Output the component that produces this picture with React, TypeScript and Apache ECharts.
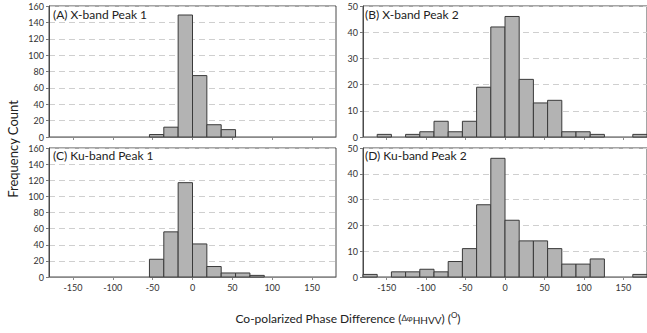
import React, { useEffect, useRef } from "react";
import * as echarts from "echarts";

// Histogram bins (degrees), 18° wide, from -180 to 180
const binStarts = [-180, -162, -144, -126, -108, -90, -72, -54, -36, -18, 0, 18, 36, 54, 72, 90, 108, 126, 144, 162];
const binWidth = 18;

const xBandPeak1 = [0, 0, 0, 0, 0, 0, 0, 3, 12, 149, 75, 15, 9, 0, 0, 0, 0, 0, 0, 0];
const xBandPeak2 = [0, 1, 0, 1, 2, 6, 2, 6, 19, 42, 46, 22, 13, 14, 2, 2, 1, 0, 0, 1];
const kuBandPeak1 = [0, 0, 0, 0, 0, 0, 0, 22, 56, 117, 41, 13, 5, 5, 2, 0, 0, 0, 0, 0];
const kuBandPeak2 = [1, 0, 2, 2, 3, 2, 6, 11, 28, 46, 22, 14, 14, 11, 5, 5, 7, 0, 0, 1];

const panelTitles = ["(A) X-band Peak 1", "(B) X-band Peak 2", "(C) Ku-band Peak 1", "(D) Ku-band Peak 2"];
const xTicks = [-150, -100, -50, 0, 50, 100, 150];

const FONT = "Lato";

export default function App() {
  const ref = useRef<HTMLDivElement>(null);
  useEffect(() => {
    if (!ref.current) return;
    const chart = echarts.init(ref.current, null, { renderer: "svg" });
    const grids = [
      { left: 49, top: 6, width: 287, height: 131 },
      { left: 363, top: 6, width: 290, height: 131 },
      { left: 49, top: 148, width: 287, height: 129 },
      { left: 363, top: 148, width: 290, height: 129 },
    ].map((g) => ({ ...g, show: true, borderColor: "#4a4a4a", borderWidth: 1, backgroundColor: "#fff" }));
    const datasets = [xBandPeak1, xBandPeak2, kuBandPeak1, kuBandPeak2];
    const yMax = [160, 50, 160, 50];
    const yInt = [20, 10, 20, 10];

    const xAxis = grids.map((_, i) => ({
      type: "value",
      gridIndex: i,
      min: -180,
      max: 180,
      axisLine: { show: true, onZero: false, lineStyle: { color: "#8a8a8a", width: 1 } },
      axisTick: { show: true, customValues: xTicks, length: 3, inside: false, lineStyle: { color: "#8a8a8a" } },
      axisLabel: {
        show: i >= 2,
        customValues: xTicks,
        fontFamily: FONT,
        fontSize: 9,
        color: "#333",
        margin: 6,
      },
      splitLine: { show: false },
    }));
    const yAxis = grids.map((_, i) => ({
      type: "value",
      gridIndex: i,
      min: 0,
      max: yMax[i],
      interval: yInt[i],
      axisLine: { show: true, onZero: false, lineStyle: { color: "#4a4a4a", width: 1 } },
      axisTick: { show: true, length: 3, lineStyle: { color: "#777" } },
      axisLabel: { fontFamily: FONT, fontSize: 9, color: "#333", margin: 5 },
      splitLine: { show: true, lineStyle: { color: "#cfcfcf", type: [6, 4], width: 1 } },
    }));

    const series = datasets.map((vals, i) => ({
      type: "custom",
      xAxisIndex: i,
      yAxisIndex: i,
      data: vals.map((v, k) => [binStarts[k], binStarts[k] + binWidth, v]),
      renderItem: (params: any, api: any) => {
        const x0 = api.value(0);
        const x1 = api.value(1);
        const y = api.value(2);
        if (!y) return null;
        const p0 = api.coord([x0, 0]);
        const p1 = api.coord([x1, y]);
        return {
          type: "rect",
          shape: { x: p0[0], y: p1[1], width: p1[0] - p0[0], height: p0[1] - p1[1] },
          style: { fill: "#b3b3b3", stroke: "#3a3a3a", lineWidth: 1 },
        };
      },
    }));

    const titlePos = [
      [53, 16],
      [365, 16],
      [53, 157],
      [365, 157],
    ];
    const graphic: any[] = panelTitles.map((t, i) => ({
      type: "text",
      left: titlePos[i][0],
      top: titlePos[i][1] - 8,
      z: 100,
      style: { text: t, fontFamily: FONT, fontSize: 12, fill: "#222" },
    }));
    graphic.push({
      type: "text",
      x: 13,
      y: 149,
      rotation: Math.PI / 2,
      z: 100,
      style: {
        text: "Frequency Count",
        fontFamily: FONT,
        fontSize: 13,
        fill: "#222",
        align: "center",
        verticalAlign: "middle",
      },
    });
    graphic.push({
      type: "text",
      x: 348,
      y: 318,
      z: 100,
      style: {
        text: "Co-polarized Phase Difference ({s|Δφ}{sub|HHVV}) ({sup|O})",
        fontFamily: FONT,
        fontSize: 12,
        fill: "#222",
        align: "center",
        verticalAlign: "middle",
        rich: {
          s: { fontFamily: FONT, fontSize: 8, fill: "#222" },
          sub: { fontFamily: FONT, fontSize: 10, fill: "#222", padding: [4, 0, 0, 0] },
          sup: { fontFamily: FONT, fontSize: 8, fill: "#222", padding: [0, 0, 6, 0] },
        },
      },
    });

    chart.setOption({
      animation: false,
      backgroundColor: "#fff",
      grid: grids,
      xAxis,
      yAxis,
      series,
      graphic,
    });
    return () => chart.dispose();
  }, []);
  return (
    <div
      ref={ref}
      style={{ position: "fixed", left: 0, top: 0, width: 647, height: 333, background: "#fff" }}
    />
  );
}
